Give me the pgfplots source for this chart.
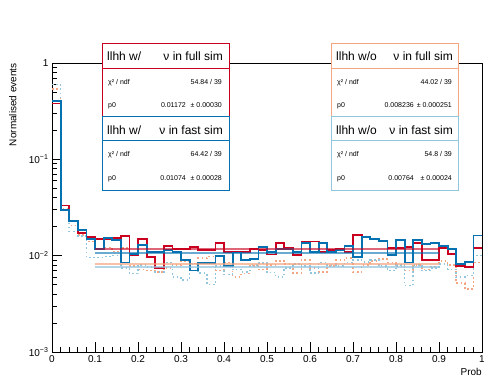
\documentclass[border=0pt]{standalone}
\usepackage{pgfplots}
\usepackage{pgfplotstable}
\pgfplotsset{compat=1.18}
\usepackage{fontspec}
\setmainfont{Liberation Sans}
\definecolor{cred}{HTML}{CA0020}
\definecolor{cblue}{HTML}{0571B0}
\definecolor{corange}{HTML}{F4A582}
\definecolor{clblue}{HTML}{92C5DE}
\pgfplotstableread{
x red blue orange lblue
0.00 0.38 0.40 0.54 0.60
0.02 0.0332 0.0300 0.0310 0.0300
0.04 0.0227 0.0227 0.0205 0.0179
0.06 0.0172 0.0185 0.0165 0.0160
0.08 0.0155 0.0150 0.0140 0.0096
0.10 0.0149 0.0118 0.0118 0.0096
0.12 0.0148 0.0152 0.0122 0.0098
0.14 0.0152 0.0146 0.0110 0.0100
0.16 0.0160 0.0085 0.0120 0.0075
0.18 0.0101 0.0104 0.0078 0.0065
0.20 0.0149 0.0128 0.0072 0.0080
0.22 0.0096 0.0110 0.0070 0.0076
0.24 0.0074 0.0110 0.0068 0.0068
0.26 0.0126 0.0115 0.0075 0.0085
0.28 0.0117 0.0110 0.0080 0.0060
0.30 0.0117 0.0090 0.0088 0.0056
0.32 0.0122 0.0070 0.0083 0.0082
0.34 0.0115 0.0084 0.0094 0.0066
0.36 0.0115 0.0084 0.0098 0.0050
0.38 0.0135 0.0100 0.0070 0.0078
0.40 0.0110 0.0078 0.0085 0.0064
0.42 0.0110 0.0108 0.0060 0.0072
0.44 0.0110 0.0090 0.0065 0.0068
0.46 0.0118 0.0093 0.0078 0.0080
0.48 0.0115 0.0122 0.0072 0.0084
0.50 0.0103 0.0110 0.0080 0.0067
0.52 0.0135 0.0118 0.0088 0.0060
0.54 0.0121 0.0118 0.0082 0.0075
0.56 0.0101 0.0110 0.0066 0.0082
0.58 0.0140 0.0135 0.0090 0.0078
0.60 0.0140 0.0110 0.0075 0.0066
0.62 0.0110 0.0135 0.0068 0.0085
0.64 0.0115 0.0110 0.0078 0.0080
0.66 0.0118 0.0115 0.0090 0.0078
0.68 0.0110 0.0125 0.0095 0.0085
0.70 0.0163 0.0097 0.0068 0.0090
0.72 0.0155 0.0157 0.0080 0.0086
0.74 0.0150 0.0150 0.0088 0.0090
0.76 0.0143 0.0143 0.0092 0.0078
0.78 0.0120 0.0101 0.0085 0.0070
0.80 0.0120 0.0146 0.0078 0.0080
0.82 0.0122 0.0085 0.0070 0.0049
0.84 0.0135 0.0146 0.0080 0.0080
0.86 0.0090 0.0133 0.0072 0.0070
0.88 0.0091 0.0135 0.0076 0.0074
0.90 0.0120 0.0125 0.0088 0.0082
0.92 0.0104 0.0118 0.0080 0.0072
0.94 0.0078 0.0082 0.0052 0.0060
0.96 0.0077 0.0086 0.0045 0.0062
0.98 0.0120 0.0162 0.0085 0.0100
1.00 0.0120 0.0162 0.0085 0.0100
}\hist
\newcommand\hdr{\fontsize{12}{14}\selectfont}
\newcommand\sml{\fontsize{7}{8}\selectfont}
\begin{document}
\begin{tikzpicture}[x=1pt,y=1pt]
\useasboundingbox (0,0) rectangle (485,382);
\begin{axis}[
  at={(52pt,30pt)}, anchor=south west, scale only axis,
  width=430pt, height=289pt,
  xmin=0, xmax=1, ymin=1e-3, ymax=1, ymode=log,
  axis line style={line width=0.9pt},
  /pgf/number format/assume math mode=true,
  xtick={0,0.1,0.2,0.3,0.4,0.5,0.6,0.7,0.8,0.9,1},
  xticklabels={0,0.1,0.2,0.3,0.4,0.5,0.6,0.7,0.8,0.9,1},
  minor x tick num=4,
  ytick={0.001,0.01,0.1,1},
  yticklabels={10\textsuperscript{−3},10\textsuperscript{−2},10\textsuperscript{−1},1},
  minor ytick={0.002,0.003,0.004,0.005,0.006,0.007,0.008,0.009,0.02,0.03,0.04,0.05,0.06,0.07,0.08,0.09,0.2,0.3,0.4,0.5,0.6,0.7,0.8,0.9},
  tick align=inside, xtick pos=bottom, ytick pos=left,
  major tick length=10pt, minor tick length=5pt,
  tick style={black, line width=0.7pt},
  ticklabel style={font=\fontsize{10}{12}\selectfont},
  xlabel={Prob}, ylabel={Normalised events},
  xlabel style={at={(axis description cs:1,-0.055)}, anchor=north east, inner sep=0pt, font=\fontsize{10}{12}\selectfont},
  ylabel style={at={(axis description cs:-0.082,1)}, anchor=south east, inner sep=0pt, font=\fontsize{10}{12}\selectfont},
]
\addplot[const plot, corange, line width=1.6pt, dash pattern=on 1.6pt off 2.6pt] table[x=x,y=orange] {\hist};
\addplot[const plot, clblue, line width=1.6pt, dash pattern=on 1.6pt off 2.6pt] table[x=x,y=lblue] {\hist};
\addplot[const plot, cred, line width=1.8pt] table[x=x,y=red] {\hist};
\addplot[const plot, cblue, line width=1.8pt] table[x=x,y=blue] {\hist};
\addplot[corange, line width=2pt, opacity=0.7] coordinates {(0.1,0.008236) (0.9,0.008236)};
\addplot[clblue, line width=2pt, opacity=0.7] coordinates {(0.1,0.00764) (0.9,0.00764)};
\addplot[cred, line width=2pt, opacity=0.6] coordinates {(0.1,0.01172) (0.9,0.01172)};
\addplot[cblue, line width=2pt, opacity=0.6] coordinates {(0.1,0.01074) (0.9,0.01074)};
\end{axis}
\tikzset{every node/.style={inner sep=0pt}}
% box 1
\draw[fill=white, draw=cred, line width=1pt] (102,265) rectangle (229,338);
\draw[cred, line width=1pt] (102,313) -- (229,313);
\node[anchor=base west, font=\hdr] at (107,321.3) {llhh w/};
\node[anchor=base east, font=\hdr] at (223,321.3) {ν in full sim};
\node[anchor=base west, font=\sml] at (108,297.5) {χ² / ndf};
\node[anchor=base east, font=\sml] at (222,297.5) {54.84 / 39};
\node[anchor=base west, font=\sml] at (108,274.5) {p0};
\node[anchor=base east, font=\sml] at (186,274.5) {0.01172};
\node[anchor=base east, font=\sml] at (222,274.5) {± 0.00030};
% box 2
\draw[fill=white, draw=cblue, line width=1pt] (102,191) rectangle (229,265);
\draw[cblue, line width=1pt] (102,241) -- (229,241);
\node[anchor=base west, font=\hdr] at (107,247.7) {llhh w/};
\node[anchor=base east, font=\hdr] at (223,247.7) {ν in fast sim};
\node[anchor=base west, font=\sml] at (108,225.5) {χ² / ndf};
\node[anchor=base east, font=\sml] at (222,225.5) {64.42 / 39};
\node[anchor=base west, font=\sml] at (108,201.5) {p0};
\node[anchor=base east, font=\sml] at (186,201.5) {0.01074};
\node[anchor=base east, font=\sml] at (222,201.5) {± 0.00028};
% box 3
\draw[fill=white, draw=corange, line width=1pt] (331,265) rectangle (458,338);
\draw[corange, line width=1pt] (331,313) -- (458,313);
\node[anchor=base west, font=\hdr] at (336,321.3) {llhh w/o};
\node[anchor=base east, font=\hdr] at (453,321.3) {ν in full sim};
\node[anchor=base west, font=\sml] at (337,297.5) {χ² / ndf};
\node[anchor=base east, font=\sml] at (452,297.5) {44.02 / 39};
\node[anchor=base west, font=\sml] at (337,274.5) {p0};
\node[anchor=base east, font=\sml] at (414,274.5) {0.008236};
\node[anchor=base east, font=\sml] at (452,274.5) {± 0.000251};
% box 4
\draw[fill=white, draw=clblue, line width=1pt] (331,191) rectangle (458,265);
\draw[clblue, line width=1pt] (331,241) -- (458,241);
\node[anchor=base west, font=\hdr] at (336,247.7) {llhh w/o};
\node[anchor=base east, font=\hdr] at (453,247.7) {ν in fast sim};
\node[anchor=base west, font=\sml] at (337,225.5) {χ² / ndf};
\node[anchor=base east, font=\sml] at (452,225.5) {54.8 / 39};
\node[anchor=base west, font=\sml] at (337,201.5) {p0};
\node[anchor=base east, font=\sml] at (414,201.5) {0.00764};
\node[anchor=base east, font=\sml] at (452,201.5) {± 0.00024};
\end{tikzpicture}
\end{document}
